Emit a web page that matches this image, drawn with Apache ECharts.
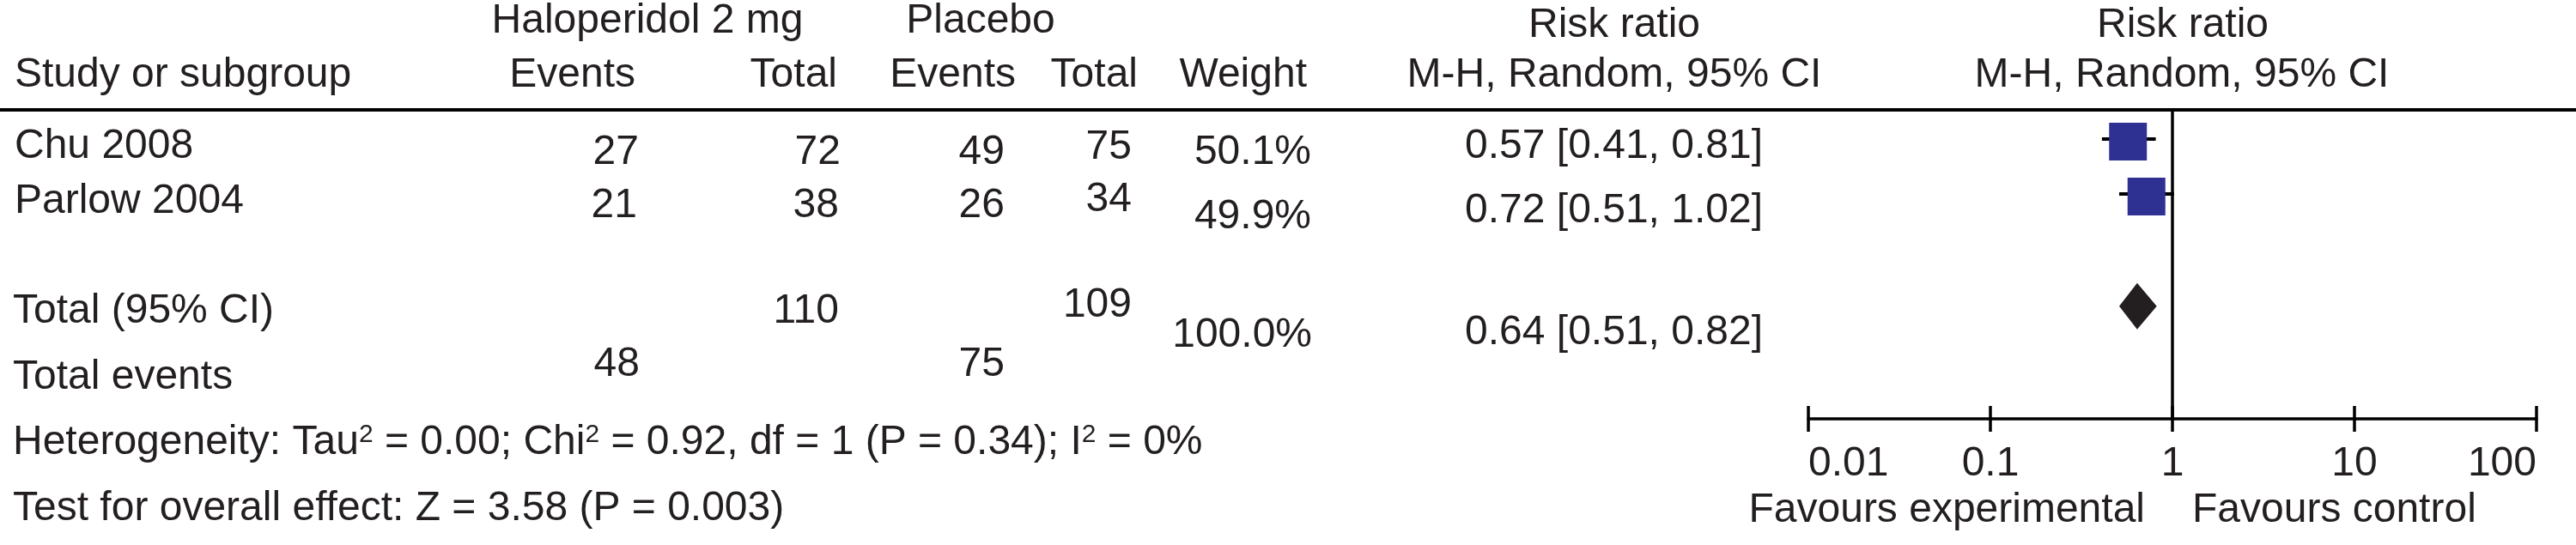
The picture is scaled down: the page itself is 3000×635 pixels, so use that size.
<!DOCTYPE html>
<html>
<head>
<meta charset="utf-8">
<title>Forest plot</title>
<script src="https://cdn.jsdelivr.net/npm/echarts@6/dist/echarts.min.js"></script>
<style>
  html, body { margin: 0; padding: 0; background: #fff; }
  #main { width: 3000px; height: 635px; }
</style>
</head>
<body>
<div id="main"></div>
<script>
// data
const studies = ['Chu 2008', 'Parlow 2004'];
const halEvents = [27, 21];
const halTotal = [72, 38];
const plaEvents = [49, 26];
const plaTotal = [75, 34];
const weights = ['50.1%', '49.9%'];
const rr = [0.57, 0.72];
const rrLow = [0.41, 0.51];
const rrHigh = [0.81, 1.02];
const studyRows = [0, 1];      // row index on the plot
const pooled = [0.64, 0.51, 0.82]; // estimate, lower, upper
const pooledRow = 3;
const totalHal = 110, totalPla = 109, totalWeight = '100.0%';
const eventsHal = 48, eventsPla = 75;
const tickLabels = ['0.01', '0.1', '1', '10', '100'];

const INK = '#231f20';
const BLUE = '#2e3192';
const FONT = "'Liberation Sans', Arial, sans-serif";
const FS = 48;

const fmt = v => v.toFixed(2);
const ciText = i => fmt(rr[i]) + ' [' + fmt(rrLow[i]) + ', ' + fmt(rrHigh[i]) + ']';

// text at a baseline
const txt = (s, x, base, align) => ({
  type: 'text',
  x: x,
  y: base - 17,
  silent: true,
  style: {
    text: s, fill: INK, fontSize: FS, fontFamily: FONT,
    align: align || 'left', verticalAlign: 'middle'
  }
});

const graphics = [
  // header rule
  { type: 'line', silent: true, shape: { x1: 0, y1: 128, x2: 3000, y2: 128 }, style: { stroke: '#000', lineWidth: 4 } },
  txt('Haloperidol 2 mg', 754, 42, 'center'),
  txt('Placebo', 1142, 42, 'center'),
  txt('Risk ratio', 1880, 47, 'center'),
  txt('Risk ratio', 2542, 47, 'center'),
  txt('Study or subgroup', 17, 105),
  txt('Events', 740, 105, 'right'),
  txt('Total', 975, 105, 'right'),
  txt('Events', 1183, 105, 'right'),
  txt('Total', 1325, 105, 'right'),
  txt('Weight', 1522, 105, 'right'),
  txt('M-H, Random, 95% CI', 1880, 105, 'center'),
  txt('M-H, Random, 95% CI', 2541, 105, 'center'),

  // study rows
  txt(studies[0], 17, 188),
  txt(String(halEvents[0]), 744, 195, 'right'),
  txt(String(halTotal[0]), 979, 195, 'right'),
  txt(String(plaEvents[0]), 1170, 195, 'right'),
  txt(String(plaTotal[0]), 1318, 189, 'right'),
  txt(weights[0], 1527, 195, 'right'),
  txt(ciText(0), 2053, 188, 'right'),

  txt(studies[1], 17, 252),
  txt(String(halEvents[1]), 742, 257, 'right'),
  txt(String(halTotal[1]), 977, 257, 'right'),
  txt(String(plaEvents[1]), 1170, 257, 'right'),
  txt(String(plaTotal[1]), 1318, 250, 'right'),
  txt(weights[1], 1527, 270, 'right'),
  txt(ciText(1), 2053, 263, 'right'),

  // totals
  txt('Total (95% CI)', 15, 380),
  txt(String(totalHal), 977, 380, 'right'),
  txt(String(totalPla), 1318, 373, 'right'),
  txt(totalWeight, 1528, 408, 'right'),
  txt(fmt(pooled[0]) + ' [' + fmt(pooled[1]) + ', ' + fmt(pooled[2]) + ']', 2053, 405, 'right'),
  txt('Total events', 15, 457),
  txt(String(eventsHal), 745, 442, 'right'),
  txt(String(eventsPla), 1170, 442, 'right'),

  {
    type: 'text', x: 15, y: 533 - 17, silent: true,
    style: {
      text: 'Heterogeneity: Tau{sup|2} = 0.00; Chi{sup|2} = 0.92, df = 1 (P = 0.34); I{sup|2} = 0%',
      fill: INK, fontSize: FS, fontFamily: FONT, align: 'left', verticalAlign: 'middle',
      rich: { sup: { fontSize: 30, fontFamily: FONT, fill: INK, verticalAlign: 'top', lineHeight: 48 } }
    }
  },
  txt('Test for overall effect: Z = 3.58 (P = 0.003)', 15, 610),

  txt('Favours experimental', 2498, 612, 'right'),
  txt('Favours control', 2553, 612, 'left')
];

const chart = echarts.init(document.getElementById('main'), null, { renderer: 'canvas' });

const option = {
  animation: false,
  backgroundColor: '#fff',
  grid: { left: 2106, right: 46, top: 128, bottom: 147, containLabel: false },
  xAxis: [
    {
      type: 'log', logBase: 10, min: 0.01, max: 100,
      position: 'bottom',
      axisLine: { onZero: false, lineStyle: { color: '#000', width: 3.5 } },
      axisTick: { length: 15, lineStyle: { color: '#000', width: 3.5 } },
      axisLabel: {
        color: INK, fontSize: FS, fontFamily: FONT, margin: 29,
        alignMinLabel: 'left', alignMaxLabel: 'right',
        formatter: v => tickLabels[Math.round(Math.log10(v)) + 2]
      },
      splitLine: { show: false }
    },
    {
      // inner half of the ticks
      type: 'log', logBase: 10, min: 0.01, max: 100,
      position: 'bottom',
      axisLine: { show: false, onZero: false },
      axisTick: { inside: true, length: 15, lineStyle: { color: '#000', width: 3.5 } },
      axisLabel: { show: false },
      splitLine: { show: false }
    }
  ],
  yAxis: {
    type: 'value', inverse: true, min: -0.578, max: 5.05, show: false
  },
  series: [
    {
      type: 'custom',
      name: 'ci',
      renderItem: (params, api) => {
        const a = api.coord([api.value(0), api.value(2)]);
        const b = api.coord([api.value(1), api.value(2)]);
        return {
          type: 'line',
          shape: { x1: a[0], y1: a[1] - 3, x2: b[0], y2: b[1] - 3 },
          style: { stroke: '#000', lineWidth: 4 }
        };
      },
      data: studies.map((s, i) => [rrLow[i], rrHigh[i], studyRows[i]])
    },
    {
      type: 'scatter',
      name: 'estimate',
      symbol: 'rect',
      symbolSize: 44,
      itemStyle: { color: BLUE, opacity: 1 },
      data: studies.map((s, i) => [rr[i], studyRows[i]]),
      markLine: {
        silent: true,
        symbol: ['none', 'none'],
        label: { show: false },
        lineStyle: { color: '#000', width: 3.5, type: 'solid' },
        data: [{ xAxis: 1 }]
      }
    },
    {
      type: 'custom',
      name: 'pooled',
      renderItem: (params, api) => {
        const c = api.coord([api.value(0), api.value(3)]);
        const l = api.coord([api.value(1), api.value(3)]);
        const r = api.coord([api.value(2), api.value(3)]);
        const h = 27;
        return {
          type: 'polygon',
          shape: { points: [[l[0], c[1]], [c[0], c[1] - h], [r[0], c[1]], [c[0], c[1] + h]] },
          style: { fill: INK }
        };
      },
      data: [[pooled[0], pooled[1], pooled[2], pooledRow]]
    }
  ],
  graphic: graphics
};

chart.setOption(option);
</script>
</body>
</html>
